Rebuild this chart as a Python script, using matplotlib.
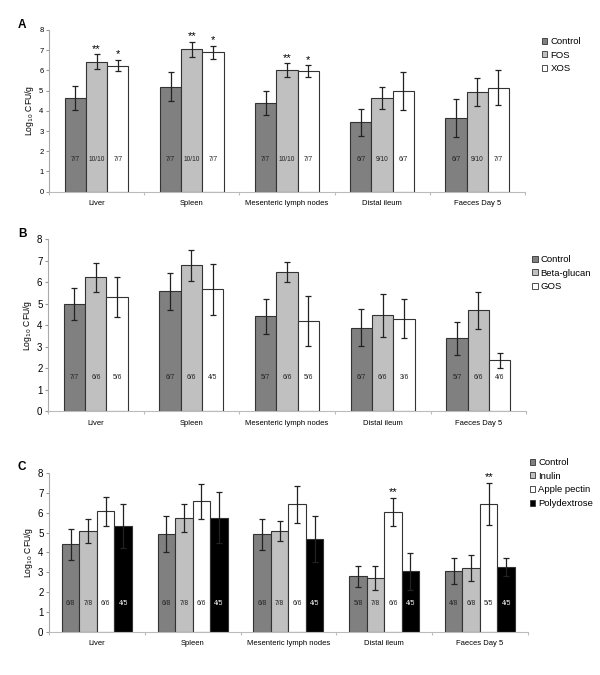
import matplotlib.pyplot as plt
import numpy as np
from matplotlib.patches import Patch

plt.rcParams['font.family'] = ['Liberation Sans', 'DejaVu Sans']

sites = ["Liver", "Spleen", "Mesenteric lymph nodes", "Distal ileum", "Faeces Day 5"]

# panel A
groupsA = ["Control", "FOS", "XOS"]
meanA = [[4.65, 5.2, 4.37, 3.43, 3.66],
         [6.44, 7.05, 6.0, 4.64, 4.92],
         [6.24, 6.9, 5.97, 4.97, 5.15]]
errA = [[0.6, 0.7, 0.6, 0.66, 0.95],
        [0.35, 0.37, 0.35, 0.55, 0.69],
        [0.28, 0.33, 0.28, 0.95, 0.86]]
nA = [["7/7", "7/7", "7/7", "6/7", "6/7"],
      ["10/10", "10/10", "10/10", "9/10", "9/10"],
      ["7/7", "7/7", "7/7", "6/7", "7/7"]]
sigA = [["", "", "", "", ""],
        ["**", "**", "**", "", ""],
        ["*", "*", "*", "", ""]]

# panel B
groupsB = ["Control", "Beta-glucan", "GOS"]
meanB = [[4.98, 5.58, 4.42, 3.89, 3.4],
         [6.23, 6.79, 6.47, 4.47, 4.7],
         [5.32, 5.67, 4.19, 4.31, 2.37]]
errB = [[0.75, 0.87, 0.81, 0.85, 0.77],
        [0.69, 0.72, 0.47, 1.0, 0.86],
        [0.93, 1.17, 1.16, 0.91, 0.34]]
nB = [["7/7", "6/7", "5/7", "6/7", "5/7"],
      ["6/6", "6/6", "6/6", "6/6", "6/6"],
      ["5/6", "4/5", "5/6", "3/6", "4/6"]]
sigB = [[""] * 5, [""] * 5, [""] * 5]

# panel C
groupsC = ["Control", "Inulin", "Apple pectin", "Polydextrose"]
meanC = [[4.41, 4.91, 4.91, 2.8, 3.07],
         [5.08, 5.74, 5.08, 2.7, 3.2],
         [6.06, 6.56, 6.41, 6.03, 6.44],
         [5.33, 5.74, 4.66, 3.05, 3.27]]
errC = [[0.78, 0.9, 0.78, 0.52, 0.63],
        [0.62, 0.7, 0.5, 0.6, 0.65],
        [0.73, 0.87, 0.92, 0.72, 1.05],
        [1.08, 1.27, 1.16, 0.93, 0.45]]
nC = [["6/8", "6/8", "6/8", "5/8", "4/8"],
      ["7/8", "7/8", "7/8", "7/8", "6/8"],
      ["6/6", "6/6", "6/6", "6/6", "5/5"],
      ["4/5", "4/5", "4/5", "4/5", "4/5"]]
sigC = [[""] * 5, [""] * 5,
        ["", "", "", "**", "**"],
        [""] * 5]

colors = ["#808080", "#c0c0c0", "#ffffff", "#000000"]
ncol = ["#222222", "#222222", "#222222", "#ffffff"]


def panel(rect, letter, groups, means, errs, ns, sigs, tick_fs, n_y, leg_xy):
    ax = fig.add_axes(rect)
    k = len(groups)
    x = np.arange(len(sites))
    total = 0.67 if k == 3 else 0.73
    w = total / k
    for i in range(k):
        pos = x - total / 2 + w * (i + 0.5)
        ax.bar(pos, means[i], w, color=colors[i], edgecolor="#333333", linewidth=0.8)
        ax.errorbar(pos, means[i], yerr=errs[i], fmt="none", ecolor="#222222",
                    elinewidth=0.9, capsize=2.5, capthick=0.9)
        for j in range(len(sites)):
            ax.text(pos[j], n_y, ns[i][j], ha="center", va="center", fontsize=4.8, color=ncol[i])
            if sigs[i][j]:
                ax.text(pos[j], means[i][j] + errs[i][j] + 0.02, sigs[i][j],
                        ha="center", va="bottom", fontsize=8)
    ax.set_xlim(-0.5, len(sites) - 0.5)
    ax.set_ylim(0, 8)
    ax.set_yticks(range(9))
    ax.tick_params(axis="y", labelsize=tick_fs, length=2, color="#999999", pad=2)
    ax.set_xticks(np.arange(len(sites) + 1) - 0.5, minor=False)
    ax.set_xticklabels([])
    ax.tick_params(axis="x", length=2, color="#bbbbbb")
    for j, s in enumerate(sites):
        ax.text(j, -0.4, s, ha="center", va="top", fontsize=5.5)
    ax.spines["top"].set_visible(False)
    ax.spines["right"].set_visible(False)
    ax.spines["left"].set_color("#aaaaaa")
    ax.spines["bottom"].set_color("#bbbbbb")
    ax.set_ylabel("Log$_{10}$ CFU/g", fontsize=6.2, labelpad=2)
    fig.text(0.03, rect[1] + rect[3] + 0.008, letter, fontsize=8.5, fontweight="bold",
             ha="left", va="center")
    handles = [Patch(facecolor=colors[i], edgecolor="#333333", linewidth=0.6, label=g)
               for i, g in enumerate(groups)]
    fig.legend(handles=handles, loc="upper left", bbox_to_anchor=leg_xy, frameon=False,
               fontsize=6.8, handlelength=0.6, handleheight=0.6, handletextpad=0.3,
               labelspacing=0.5, borderaxespad=0, borderpad=0)
    return ax


fig = plt.figure(figsize=(6, 6.75), dpi=100)
panel([0.0817, 0.716, 0.793, 0.2396], "A", groupsA, meanA, errA, nA, sigA, 5.5, 1.57,
      (0.903, 1 - 37 / 675))
panel([0.08, 0.3907, 0.797, 0.2548], "B", groupsB, meanB, errB, nB, sigB, 7, 1.58,
      (0.887, 1 - 255 / 675))
panel([0.0817, 0.0633, 0.798, 0.2364], "C", groupsC, meanC, errC, nC, sigC, 7, 1.45,
      (0.883, 1 - 458 / 675))

fig.savefig("out.png", dpi=100)
